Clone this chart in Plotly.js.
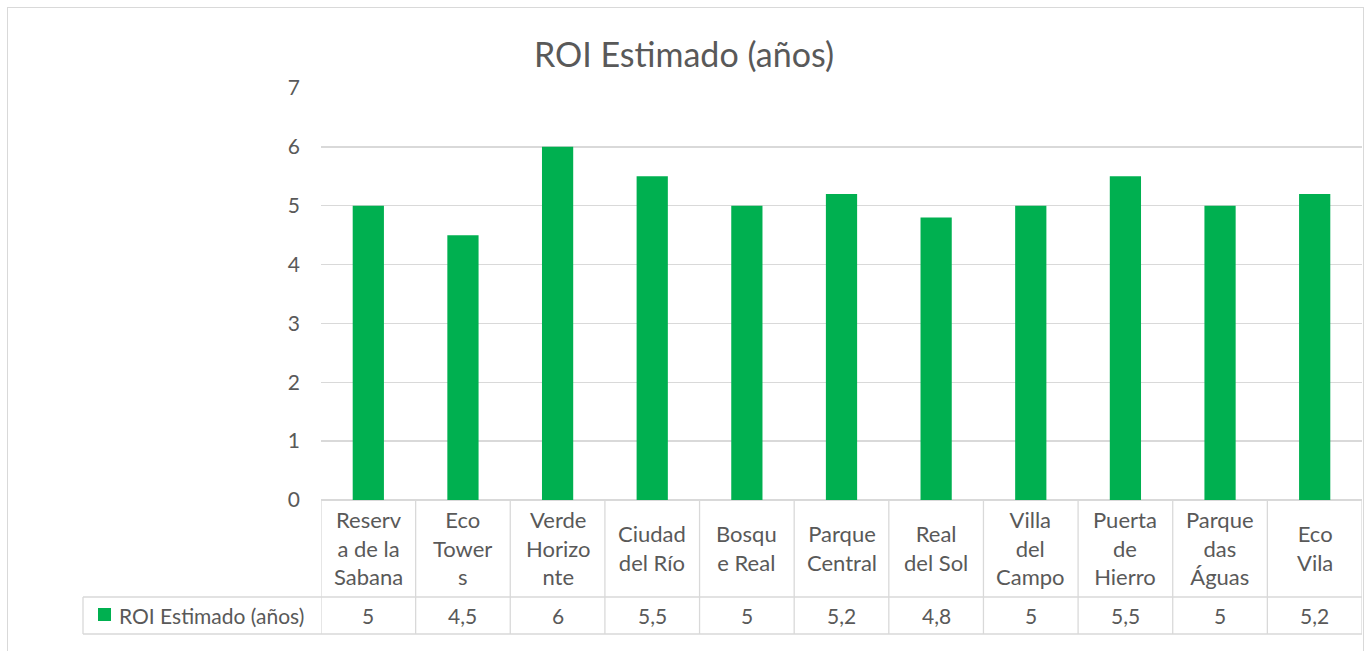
<!DOCTYPE html>
<html>
<head>
<meta charset="utf-8">
<script src="https://cdn.plot.ly/plotly-3.0.1.min.js"></script>
<style>
  html, body { margin: 0; padding: 0; background: #ffffff; }
  #wrap { position: relative; width: 1368px; height: 651px; overflow: hidden; }
  #chart { position: absolute; left: 0; top: 0; width: 1368px; height: 651px; }
  #frame { position: absolute; left: 7px; top: 7px; width: 1357px; height: 700px;
           border: 1px solid #d9d9d9; pointer-events: none; box-sizing: border-box; }
</style>
</head>
<body>
<div id="wrap">
  <div id="chart"></div>
  <div id="frame"></div>
</div>
<script>
// ---- data ----
const categories = ["Reserva de la Sabana", "Eco Towers", "Verde Horizonte", "Ciudad del Río",
  "Bosque Real", "Parque Central", "Real del Sol", "Villa del Campo", "Puerta de Hierro",
  "Parque das Águas", "Eco Vila"];
const categoryLabels = ["Reserv<br>a de la<br>Sabana", "Eco<br>Tower<br>s", "Verde<br>Horizo<br>nte",
  "Ciudad<br>del Río", "Bosqu<br>e Real", "Parque<br>Central", "Real<br>del Sol",
  "Villa<br>del<br>Campo", "Puerta<br>de<br>Hierro", "Parque<br>das<br>Águas", "Eco<br>Vila"];
const roiValues = [5, 4.5, 6, 5.5, 5, 5.2, 4.8, 5, 5.5, 5, 5.2];
const seriesName = "ROI Estimado (años)";
const chartTitle = "ROI Estimado (años)";

// ---- layout constants ----
const W = 1368, H = 651;
const ML = 321, MR = 6, MT = 88, MB = 151;
const plotW = W - ML - MR, plotH = H - MT - MB;
const FONT = "Lato, 'Open Sans', sans-serif";
const TXT = "#595959";
const GRID = "#d9d9d9";
const GREEN = "#00B050";

function py(pixelY) { return (H - MB - pixelY) / plotH; }   // pixel y -> paper y
function px(pixelX) { return (pixelX - ML) / plotW; }       // pixel x -> paper x

const yRow1 = py(597), yRow2 = py(634);
const xTableLeft = px(83);

const shapes = [];
// vertical table lines at category boundaries
for (let i = 0; i <= categories.length; i++) {
  shapes.push({type: "line", xref: "x", yref: "paper", x0: i - 0.5, x1: i - 0.5,
    y0: 0, y1: yRow2, line: {color: GRID, width: 1.3}});
}
// horizontal table lines
[yRow1, yRow2].forEach(y => shapes.push({type: "line", xref: "paper", yref: "paper",
  x0: xTableLeft, x1: 1, y0: y, y1: y, line: {color: GRID, width: 1.3}}));
// left edge of legend cell
shapes.push({type: "line", xref: "paper", yref: "paper", x0: xTableLeft, x1: xTableLeft,
  y0: yRow1, y1: yRow2, line: {color: GRID, width: 1.3}});
// legend key square
shapes.push({type: "rect", xref: "paper", yref: "paper", x0: px(98), x1: px(111),
  y0: py(621), y1: py(608), line: {width: 0}, fillcolor: GREEN});

const annotations = [];
categories.forEach((c, i) => {
  annotations.push({xref: "x", yref: "paper", x: i, y: py(548), text: categoryLabels[i],
    showarrow: false, xanchor: "center", yanchor: "middle", align: "center",
    font: {family: FONT, size: 22, color: TXT}});
  annotations.push({xref: "x", yref: "paper", x: i, y: py(615.5),
    text: String(roiValues[i]).replace(".", ","),
    showarrow: false, xanchor: "center", yanchor: "middle",
    font: {family: FONT, size: 21, color: TXT}});
});
annotations.push({xref: "paper", yref: "paper", x: px(117), y: py(615.5), text: seriesName,
  showarrow: false, xanchor: "left", yanchor: "middle",
  font: {family: FONT, size: 21, color: TXT}});

const trace = {
  type: "bar", x: categories, y: roiValues, name: seriesName,
  marker: {color: GREEN}, width: 0.33, hoverinfo: "x+y"
};

const layout = {
  width: W, height: H,
  margin: {l: ML, r: MR, t: MT, b: MB, pad: 0},
  paper_bgcolor: "#ffffff", plot_bgcolor: "#ffffff",
  title: {text: chartTitle, x: 0.5, xanchor: "center", xref: "container",
    y: 1 - 55 / H, yanchor: "middle",
    font: {family: FONT, size: 34, color: TXT}},
  showlegend: false,
  xaxis: {type: "category", range: [-0.5, categories.length - 0.5], showticklabels: false,
    showgrid: false, zeroline: false, showline: false, ticks: ""},
  yaxis: {range: [0, 7], dtick: 1, tick0: 0, showgrid: true, gridcolor: GRID, gridwidth: 1.3,
    zeroline: true, zerolinecolor: GRID, zerolinewidth: 1.3, showline: false, ticks: "",
    ticklabelstandoff: 20,
    tickfont: {family: FONT, size: 21, color: TXT}},
  shapes: shapes, annotations: annotations
};

Plotly.newPlot("chart", [trace], layout, {displayModeBar: false, staticPlot: true});
</script>
</body>
</html>
